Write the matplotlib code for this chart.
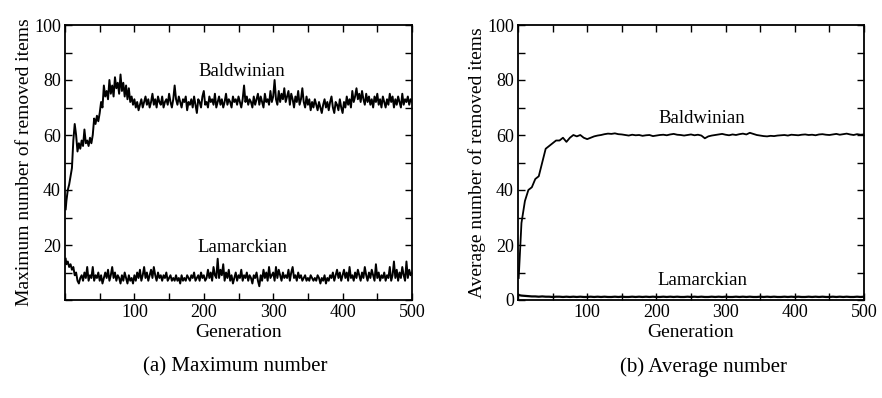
import numpy as np
import matplotlib
matplotlib.use("Agg")
import matplotlib.pyplot as plt
from matplotlib.ticker import MultipleLocator

plt.rcParams['font.family'] = ['Liberation Serif', 'DejaVu Serif']

# generaciones muestreadas cada 2 (maximo) y cada 5 (promedio)
gen2 = [1] + list(range(2, 501, 2))
gen5 = [1] + list(range(5, 501, 5))

# (a) maximo de items removidos
max_baldwin = [33, 36, 40, 42, 45, 48, 58, 64, 60, 54,
               57, 55, 58, 56, 62, 57, 58, 56, 59, 57,
               60, 66, 64, 67, 65, 68, 72, 70, 78, 74,
               76, 73, 80, 75, 78, 74, 81, 77, 79, 75,
               82, 76, 79, 74, 78, 73, 77, 72, 74, 71,
               73, 70, 72, 69, 71, 73, 70, 72, 74, 71,
               73, 70, 72, 75, 71, 73, 70, 74, 72, 71,
               74, 70, 72, 73, 71, 75, 72, 70, 73, 78,
               73, 71, 74, 72, 70, 73, 72, 74, 69, 72,
               71, 73, 70, 74, 71, 68, 73, 72, 70, 74,
               76, 71, 72, 70, 74, 72, 73, 71, 75, 70,
               72, 74, 71, 73, 70, 72, 75, 71, 73, 72,
               70, 74, 72, 73, 71, 74, 72, 70, 73, 78,
               72, 74, 71, 73, 72, 70, 74, 71, 73, 75,
               71, 74, 72, 70, 75, 72, 73, 71, 76, 72,
               74, 80, 73, 71, 76, 72, 75, 73, 77, 72,
               74, 76, 71, 75, 73, 70, 74, 72, 76, 71,
               73, 77, 72, 70, 74, 71, 73, 69, 72, 70,
               73, 71, 69, 72, 70, 68, 71, 73, 70, 72,
               69, 72, 74, 70, 68, 72, 71, 69, 73, 70,
               68, 72, 70, 74, 71, 73, 70, 76, 72, 74,
               77, 73, 75, 72, 76, 73, 71, 75, 72, 74,
               71, 73, 70, 74, 72, 75, 71, 73, 70, 74,
               72, 70, 73, 71, 75, 72, 74, 70, 73, 71,
               74, 72, 70, 75, 71, 73, 72, 74, 71, 73,
               72]
max_lamarck = [15, 13, 14, 12, 13, 11, 12, 9, 10, 7,
               6, 8, 9, 7, 10, 8, 12, 7, 9, 8,
               12, 7, 9, 8, 10, 7, 9, 6, 8, 10,
               8, 11, 7, 9, 12, 8, 10, 7, 9, 8,
               6, 9, 7, 10, 8, 6, 9, 7, 8, 6,
               9, 7, 10, 8, 11, 7, 9, 12, 8, 10,
               7, 9, 11, 8, 12, 9, 7, 10, 8, 9,
               7, 9, 8, 10, 7, 8, 9, 7, 8, 7,
               9, 7, 8, 6, 9, 7, 8, 7, 9, 8,
               7, 9, 8, 10, 7, 8, 9, 7, 10, 8,
               9, 7, 8, 11, 8, 10, 7, 12, 9, 8,
               15, 8, 11, 9, 13, 7, 10, 8, 11, 7,
               9, 6, 8, 10, 7, 9, 8, 11, 7, 9,
               8, 10, 7, 9, 8, 6, 9, 8, 10, 7,
               5, 9, 7, 11, 8, 10, 7, 12, 8, 9,
               10, 7, 12, 8, 11, 9, 7, 10, 8, 9,
               8, 11, 7, 10, 12, 8, 9, 7, 10, 8,
               9, 7, 8, 9, 7, 8, 7, 9, 8, 7,
               8, 7, 9, 8, 6, 8, 7, 9, 6, 8,
               7, 9, 8, 10, 7, 9, 11, 8, 10, 7,
               9, 11, 8, 10, 7, 12, 8, 9, 7, 10,
               8, 11, 9, 7, 10, 8, 12, 9, 7, 10,
               8, 11, 9, 7, 13, 8, 10, 7, 9, 8,
               10, 7, 9, 8, 12, 7, 9, 14, 8, 11,
               7, 10, 8, 12, 9, 7, 14, 8, 11, 9,
               10]

# (b) promedio de items removidos
avg_baldwin = [8, 28, 36, 40, 41, 44, 45, 50, 55, 56, 57, 58,
               58, 59, 57.5, 59, 60, 59.5, 60, 59, 58.5, 59, 59.5, 59.8,
               60, 60.3, 60.5, 60.4, 60.6, 60.3, 60.2, 60, 59.8, 60.1, 59.9, 60,
               59.7, 59.9, 60, 59.6, 59.8, 60, 60.1, 59.9, 60.2, 60.4, 60.1, 60,
               59.8, 60, 60.2, 59.9, 60.1, 59.8, 58.8, 59.5, 59.8, 60, 60.2, 60.4,
               60.1, 59.9, 60.2, 60, 60.3, 60.5, 60.2, 60.8, 60.4, 60, 59.8, 59.6,
               59.5, 59.7, 59.6, 59.8, 59.9, 60, 59.8, 60.1, 60, 59.9, 60.1, 60.2,
               60, 60.1, 59.9, 60.2, 60.3, 60.1, 60, 60.2, 60.4, 60.1, 60.3, 60.5,
               60.2, 60, 60.3, 60.1, 60.2]
avg_lamarck = [1.8, 1.6, 1.5, 1.4, 1.3, 1.3, 1.2, 1.3, 1.2, 1.2, 1.1, 1.2,
               1.2, 1.1, 1.2, 1.1, 1.2, 1.1, 1.2, 1.1, 1.1, 1.2, 1.1, 1.2,
               1.1, 1.2, 1.1, 1.1, 1.2, 1.1, 1.2, 1.1, 1.1, 1.2, 1.1, 1.2,
               1.1, 1.2, 1.1, 1.2, 1.1, 1.1, 1.2, 1.1, 1.2, 1.1, 1.2, 1.1,
               1.1, 1.2, 1.1, 1.2, 1.1, 1.2, 1.1, 1.1, 1.2, 1.1, 1.2, 1.1,
               1.2, 1.1, 1.1, 1.2, 1.1, 1.2, 1.1, 1.2, 1.1, 1.1, 1.2, 1.1,
               1.2, 1.1, 1.2, 1.1, 1.1, 1.2, 1.1, 1.2, 1.1, 1.2, 1.1, 1.1,
               1.2, 1.1, 1.2, 1.1, 1.2, 1.1, 1.1, 1.2, 1.1, 1.2, 1.1, 1.2,
               1.1, 1.1, 1.2, 1.1, 1.2]

fig = plt.figure(figsize=(8.82, 3.98), dpi=100)
ax1 = fig.add_axes([65/882, 1-300/398, 347/882, 275/398])
ax2 = fig.add_axes([518/882, 1-300/398, 346/882, 275/398])

def estilo(ax, ylab, yticks):
    ax.set_xlim(0, 500)
    ax.set_ylim(0, 100)
    ax.set_xticks([100, 200, 300, 400, 500])
    ax.set_yticks(yticks)
    ax.xaxis.set_minor_locator(MultipleLocator(50))
    ax.yaxis.set_minor_locator(MultipleLocator(10))
    ax.tick_params(which='both', direction='in', top=True, right=True,
                   length=5, width=1, labelsize=13, pad=3)
    for s in ax.spines.values():
        s.set_linewidth(1.3)
    ax.set_xlabel("Generation", fontsize=14, labelpad=2)
    ax.set_ylabel(ylab, fontsize=14, labelpad=1)

ax1.plot(gen2, max_baldwin, color='black', lw=1.4)
ax1.plot(gen2, max_lamarck, color='black', lw=1.4)
estilo(ax1, "Maximum number of removed items", [20, 40, 60, 80, 100])
ax1.text(255, 83, "Baldwinian", fontsize=13.5, ha='center', va='center')
ax1.text(255, 19, "Lamarckian", fontsize=13.5, ha='center', va='center')

ax2.plot(gen5, avg_baldwin, color='black', lw=1.3)
ax2.plot(gen5, avg_lamarck, color='black', lw=1.6)
estilo(ax2, "Average number of removed items", [0, 20, 40, 60, 80, 100])
ax2.text(266, 66, "Baldwinian", fontsize=13.5, ha='center', va='center')
ax2.text(266, 7, "Lamarckian", fontsize=13.5, ha='center', va='center')

fig.text(235/882, 1-367/398, "(a) Maximum number", fontsize=15, ha='center', va='center')
fig.text(704/882, 1-367/398, "(b) Average number", fontsize=15, ha='center', va='center')

fig.savefig("out.png", dpi=100)
